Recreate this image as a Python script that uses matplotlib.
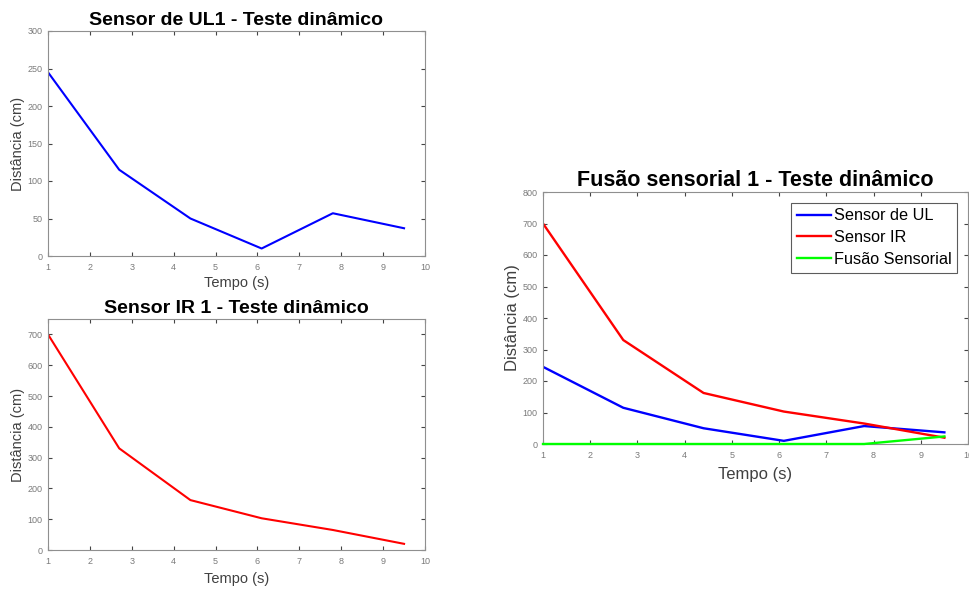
import matplotlib
matplotlib.use("Agg")
import matplotlib.pyplot as plt

plt.rcParams['font.family'] = ['Liberation Sans', 'DejaVu Sans']

# Sample times (s) and measured distances (cm)
tempo = [1.0, 2.7, 4.4, 6.1, 7.8, 9.5]
sensor_ul = [245, 115, 50, 10, 57, 37]
sensor_ir = [700, 330, 162, 103, 65, 20]
fusao = [0, 0, 0, 0, 0, 24]

x_ticks = list(range(1, 11))
ul_ticks = [0, 50, 100, 150, 200, 250, 300]
ir_ticks = [0, 100, 200, 300, 400, 500, 600, 700]
fus_ticks = [0, 100, 200, 300, 400, 500, 600, 700, 800]

W, H = 970, 590
fig = plt.figure(figsize=(W / 100, H / 100), dpi=100)
fig.patch.set_facecolor('white')

SPINE = '#8f8f8f'
TICKC = '#7a7a7a'
LABELC = '#404040'


def px_axes(left, top, right, bottom):
    return fig.add_axes([left / W, 1 - bottom / H, (right - left) / W, (bottom - top) / H])


def style(ax, yticks, ylim, tick_fs, label_fs, xpad):
    ax.set_xlim(1, 10)
    ax.set_ylim(*ylim)
    ax.set_xticks(x_ticks)
    ax.set_yticks(yticks)
    ax.tick_params(direction='in', top=True, right=True, length=3, width=0.8,
                   color='#444444', labelsize=tick_fs, labelcolor=TICKC)
    ax.tick_params(axis='x', pad=5)
    ax.tick_params(axis='y', pad=4)
    for s in ax.spines.values():
        s.set_color(SPINE)
        s.set_linewidth(0.8)
    ax.set_xlabel('Tempo (s)', fontsize=label_fs, color=LABELC, labelpad=xpad)
    ax.set_ylabel('Distância (cm)', fontsize=label_fs, color=LABELC, labelpad=2)


# Ultrasonic sensor
ax1 = px_axes(48, 31, 425, 256)
ax1.plot(tempo, sensor_ul, color='#0000ff', lw=1.5)
style(ax1, ul_ticks, (0, 300), 6.5, 10.5, 3)
ax1.set_title('Sensor de UL1 - Teste dinâmico', fontsize=14, fontweight='bold', pad=4)

# Infrared sensor
ax2 = px_axes(48, 319, 425, 550)
ax2.plot(tempo, sensor_ir, color='#ff0000', lw=1.5)
style(ax2, ir_ticks, (0, 750), 6.5, 10.5, 4)
ax2.set_title('Sensor IR 1 - Teste dinâmico', fontsize=14, fontweight='bold', pad=4)

# Sensor fusion
ax3 = px_axes(543, 192, 968, 444)
ax3.plot(tempo, sensor_ul, color='#0000ff', lw=1.7, label='Sensor de UL')
ax3.plot(tempo, sensor_ir, color='#ff0000', lw=1.7, label='Sensor IR')
ax3.plot(tempo, fusao, color='#00ff00', lw=1.7, label='Fusão Sensorial',
         clip_on=False, zorder=3)
style(ax3, fus_ticks, (0, 800), 6.5, 12, 5)
ax3.set_title('Fusão sensorial 1 - Teste dinâmico', fontsize=15.5, fontweight='bold', pad=4)
leg = ax3.legend(loc='upper right', fontsize=11.7, frameon=True, fancybox=False,
                 edgecolor='#333333', handlelength=2.1, handletextpad=0.2,
                 borderpad=0.35, labelspacing=0.42, borderaxespad=0.65)
leg.get_frame().set_linewidth(0.8)

fig.savefig('out.png', dpi=100, facecolor='white')
